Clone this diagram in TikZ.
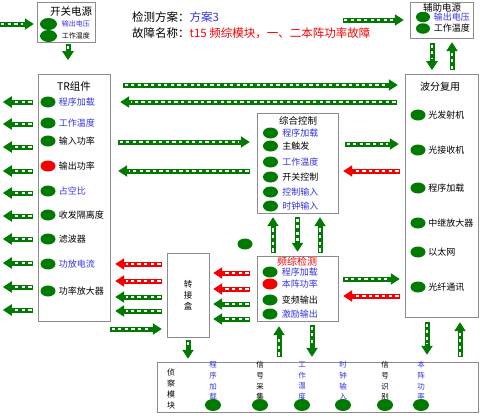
\documentclass[tikz,border=0pt]{standalone}
\usepackage{fontspec}
\setmainfont{Noto Sans CJK SC}
\usetikzlibrary{arrows.meta,positioning,shapes.geometric}
\definecolor{dgreen}{RGB}{0,122,0}
\definecolor{lblue}{RGB}{50,50,230}
\definecolor{fred}{RGB}{245,0,0}
\definecolor{boxgray}{RGB}{140,140,140}
\newcommand{\fs}[1]{\fontsize{#1}{#1}\selectfont}

\begin{document}
\begin{tikzpicture}[
  x=1pt, y=-1pt,
  font=\fs{9},
  box/.style={rectangle, draw=boxgray, inner sep=0pt},
  lamp/.style={ellipse, fill=dgreen, minimum width=15pt, minimum height=11pt, inner sep=0pt},
  ttl/.style={inner sep=0pt, font=\fs{9.5}},
  vtxt/.style={align=center, inner sep=0pt, font=\fontsize{7.5}{10.7}\selectfont},
  flow/.style={line width=5pt, draw=#1, -{Triangle[width=11pt,length=9pt]},
    postaction={draw=white, line width=2.4pt, dash pattern=on 3.3pt off 3.3pt,
                -, shorten >=11pt, shorten <=1.3pt}},
  flow/.default=dgreen
]
  \useasboundingbox (0,0) rectangle (487,418);

  % header
  \node[anchor=west, inner sep=0pt, font=\fs{11.5}] (plan) at (132,17) {检测方案：\textcolor{lblue}{方案3}};
  \node[anchor=west, inner sep=0pt, font=\fs{11.5}] (fault) at (132,33) {故障名称：\textcolor{fred}{t15 频综模块，一、二本阵功率故障}};

  % power supplies
  \node[box, minimum width=58pt, minimum height=40pt] (kg) at (66,22) {};
  \node[ttl, font=\fs{10.5}] at (71,12) {开关电源};
  \node[lamp, minimum width=17pt, minimum height=12pt] (kg1) at (48.5,24) {};
  \node[lamp, minimum width=17pt, minimum height=12pt] (kg2) at (48.5,36) {};
  \node[right=4.5pt of kg1, inner sep=0pt, font=\fs{7}, text=lblue] {输出电压};
  \node[right=4.5pt of kg2, inner sep=0pt, font=\fs{7}] {工作温度};

  \node[box, minimum width=63pt, minimum height=36pt] (fz) at (441.5,20) {};
  \node[ttl] at (442,7.5) {辅助电源};
  \node[lamp, minimum width=14pt, minimum height=10.5pt] (fz1) at (423,17) {};
  \node[lamp, minimum width=14pt, minimum height=10.5pt] (fz2) at (423,28.5) {};
  \node[right=3.5pt of fz1, inner sep=0pt, text=lblue] {输出电压};
  \node[right=3.5pt of fz2, inner sep=0pt] {工作温度};

  % TR
  \node[box, minimum width=72pt, minimum height=247pt] (tr) at (74,197.5) {};
  \node[ttl, font=\fs{10.5}] at (74,87) {TR组件};
  \foreach \y/\txt/\tc/\cc [count=\i] in {102/程序加载/lblue/dgreen, 123/工作温度/lblue/dgreen,
      141/输入功率/black/dgreen, 166/输出功率/black/fred, 191/占空比/lblue/dgreen,
      215/收发隔离度/black/dgreen, 239/滤波器/black/dgreen, 264/功放电流/lblue/dgreen,
      291/功率放大器/black/dgreen}{
    \node[lamp, fill=\cc] (tr\i) at (48,\y) {};
    \node[right=3pt of tr\i, inner sep=0pt, text=\tc] {\txt};
  }

  % 综合控制
  \node[box, minimum width=81pt, minimum height=100pt] (zh) at (297.5,163) {};
  \node[ttl] at (298,121) {综合控制};
  \foreach \y/\txt/\tc [count=\i] in {133/程序加载/lblue, 146/主触发/black, 162/工作温度/lblue,
      177/开关控制/black, 192/控制输入/lblue, 206/时钟输入/lblue}{
    \node[lamp] (zh\i) at (270.5,\y) {};
    \node[right=4pt of zh\i, inner sep=0pt, text=\tc] {\txt};
  }

  % 频综检测
  \node[box, minimum width=81pt, minimum height=65pt] (pz) at (297.5,288.5) {};
  \node[ttl, font=\fs{10}, text=fred] at (297,262) {频综检测};
  \foreach \y/\txt/\tc/\cc [count=\i] in {272/程序加载/lblue/dgreen, 284/本阵功率/lblue/fred,
      300/变频输出/black/dgreen, 314/激励输出/lblue/dgreen}{
    \node[lamp, fill=\cc] (pz\i) at (270,\y) {};
    \node[right=4pt of pz\i, inner sep=0pt, text=\tc] {\txt};
  }
  \node[lamp] (idle) at (245,244) {};

  % 转接盒
  \node[box, minimum width=42pt, minimum height=84pt] (zj) at (188,295) {};
  \node[vtxt, font=\fontsize{8.5}{11}\selectfont] at (188,295) {转\\接\\盒};

  % 波分复用
  \node[box, minimum width=73pt, minimum height=243pt] (wf) at (441.5,195.5) {};
  \node[ttl, font=\fs{10}] at (440,87) {波分复用};
  \foreach \y/\txt [count=\i] in {115/光发射机, 150/光接收机, 188/程序加载,
      223/中继放大器, 252/以太网, 287/光纤通讯}{
    \node[lamp] (wf\i) at (418,\y) {};
    \node[right=2.5pt of wf\i, inner sep=0pt] {\txt};
  }

  % 侦察模块
  \node[box, minimum width=321pt, minimum height=50pt] (zc) at (317.5,387) {};
  \node[vtxt, font=\fontsize{8}{10.7}\selectfont] at (171,389) {侦\\察\\模\\块};
  \foreach \x/\txt/\tc [count=\i] in {213/程\\序\\加\\载/lblue, 260/信\\号\\采\\集/black,
      302/工\\作\\温\\度/lblue, 343/时\\钟\\输\\入/lblue, 385/信\\号\\识\\别/black,
      421/本\\阵\\功\\率/lblue}{
    \node[vtxt, text=\tc] at (\x,381) {\txt};
    \node[lamp, minimum width=16pt, minimum height=12pt] (zc\i) at (\x,405) {};
  }

  % arrows: supplies
  \draw[flow] ([xshift=-37pt]kg.west |- kg1) -- ([xshift=-3pt]kg.west |- kg1);
  \draw[flow] ([xshift=2pt,yshift=-2pt]kg.south) -- ([xshift=2pt,yshift=-18pt]kg.south);
  \draw[flow] ([xshift=-67pt]fz.west) -- ([xshift=-6pt]fz.west);
  \draw[flow] ([xshift=-9.5pt,yshift=-5pt]fz.south) -- ([xshift=-9.5pt,yshift=-32pt]fz.south);
  \draw[flow] ([xshift=10.5pt,yshift=-32pt]fz.south) -- ([xshift=10.5pt,yshift=-4pt]fz.south);

  % TR outputs
  \foreach \y in {102,124,147,171,193,216,239,263,287,310}
    \draw[flow] ([xshift=-5pt]tr.west |- 0,\y) -- ([xshift=-35pt]tr.west |- 0,\y);

  % TR <-> 波分, 综合
  \draw[flow] ([xshift=13pt]tr.east |- 0,85) -- ([xshift=-7pt]wf.west |- 0,85);
  \draw[flow] ([xshift=-8pt]wf.west |- 0,102) -- ([xshift=10pt]tr.east |- 0,102);
  \draw[flow] ([xshift=8pt]tr.east |- 0,142) -- ([xshift=-7pt]zh.west |- 0,142);
  \draw[flow] ([xshift=-7pt]zh.west |- 0,171) -- ([xshift=8pt]tr.east |- 0,171);
  \draw[flow] ([xshift=7pt]zh.east |- 0,144) -- ([xshift=-6pt]wf.west |- 0,144);
  \draw[flow=fred] ([xshift=-5pt]wf.west |- 0,171) -- ([xshift=5pt]zh.east |- 0,171);

  % 综合 <-> 频综
  \draw[flow] ([xshift=-24.5pt,yshift=3pt]pz.north) -- ([xshift=-24.5pt,yshift=-4pt]zh.south);
  \draw[flow] ([yshift=-4pt]zh.south) -- ([yshift=4pt]pz.north);
  \draw[flow] ([xshift=22.5pt,yshift=3pt]pz.north) -- ([xshift=22.5pt,yshift=-4pt]zh.south);

  % 频综 <-> 波分
  \draw[flow] ([xshift=5pt]pz.east |- 0,279) -- ([xshift=-5pt]wf.west |- 0,279);
  \draw[flow=fred] ([xshift=-5pt]wf.west |- 0,296) -- ([xshift=5pt]pz.east |- 0,296);

  % 频综 -> 转接盒 -> TR
  \foreach \y/\c in {273/fred,289/fred,304/dgreen,319/dgreen}
    \draw[flow=\c] ([xshift=-7pt]pz.west |- 0,\y) -- ([xshift=4pt]zj.east |- 0,\y);
  \foreach \y/\c in {264/fred,281/fred,297/dgreen,311/dgreen}
    \draw[flow=\c] ([xshift=-5pt]zj.west |- 0,\y) -- ([xshift=5pt]tr.east |- 0,\y);
  \draw[flow] (tr.east |- 0,329) -- ([xshift=-5pt]zj.west |- 0,329);

  % to/from 侦察模块
  \draw[flow] ([yshift=-3pt]zj.south) -- ([yshift=3pt]zj.south |- zc.north);
  \draw[flow] ([xshift=-18.5pt,yshift=5pt]pz.south |- zc.north) -- ([xshift=-18.5pt,yshift=-5pt]pz.south);
  \draw[flow] ([xshift=14.5pt,yshift=-4pt]pz.south) -- ([xshift=14.5pt,yshift=5pt]pz.south |- zc.north);
  \draw[flow] ([xshift=-14.5pt,yshift=-5pt]wf.south) -- ([xshift=-14.5pt,yshift=7pt]wf.south |- zc.north);
  \draw[flow] ([xshift=18.5pt,yshift=5pt]wf.south |- zc.north) -- ([xshift=18.5pt,yshift=-5pt]wf.south);
\end{tikzpicture}
\end{document}
